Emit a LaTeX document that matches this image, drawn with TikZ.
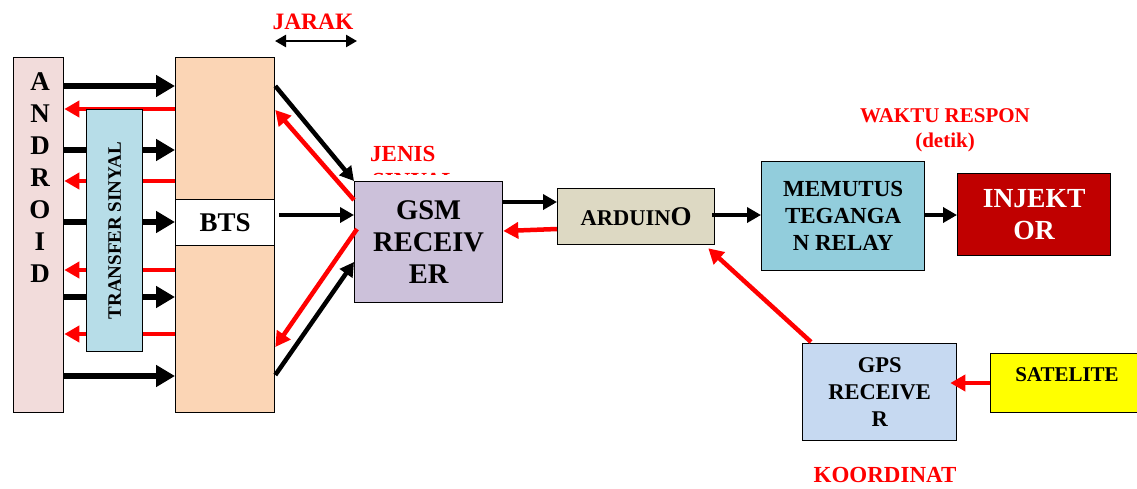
\documentclass[tikz,border=0pt]{standalone}
\usepackage{fontspec}
\setmainfont{Liberation Serif}
\usetikzlibrary{arrows.meta,calc}
\definecolor{andrc}{HTML}{F2DCDB}
\definecolor{btsc}{HTML}{FBD5B5}
\definecolor{transc}{HTML}{B7DDE8}
\definecolor{gsmc}{HTML}{CCC1DA}
\definecolor{ardc}{HTML}{DDD9C3}
\definecolor{memc}{HTML}{92CDDC}
\definecolor{injc}{HTML}{C00000}
\definecolor{gpsc}{HTML}{C6D9F1}
\definecolor{satc}{HTML}{FFFF00}
\definecolor{sigred}{HTML}{FF0000}
\begin{document}
\begin{tikzpicture}[x=1pt,y=-1pt,
  box/.style={draw=black, line width=1.3pt, inner sep=0pt, anchor=north west, align=center, font=\bfseries},
  bigarr/.style={draw=black, line width=6pt, -{Triangle[length=19pt,width=21pt]}},
  blkarr/.style={draw=black, line width=4.5pt, -{Triangle[length=14pt,width=15pt]}},
  redarr/.style={draw=sigred, line width=4.5pt, -{Triangle[length=15pt,width=16pt]}},
  lbl/.style={text=sigred, align=center, inner sep=0pt}
]
\useasboundingbox (0,0) rectangle (1137,488);

% left column boxes
\node[box, fill=andrc, minimum width=50pt, minimum height=355pt] (android) at (13,57) {};
\node[box, fill=btsc, minimum width=99pt, minimum height=355pt] (bts) at (175,57) {};

% arrows android <-> bts
\foreach \y in {86,150,222,297,376}
  \draw[bigarr] (android.east |- 0,\y) -- (bts.west |- 0,\y);
\foreach \y in {109,181,270,334}
  \draw[redarr] (bts.west |- 0,\y) -- (android.east |- 0,\y);

% transfer box
\node[box, fill=transc, minimum width=56pt, minimum height=242pt] (transfer) at (86,109) {};
\node[rotate=90, inner sep=0pt, font=\bfseries\fontsize{19}{21}\selectfont] (transfertext) at (transfer.center) {TRANSFER SINYAL};

\node[align=center, inner sep=0pt, font=\bfseries\fontsize{27}{32}\selectfont] (androidtext) at (40,178) {A\\N\\D\\R\\O\\I\\D};

\node[box, fill=white, minimum width=99pt, minimum height=46pt, font=\bfseries\fontsize{27}{30}\selectfont] (btslabel) at (175,199) {BTS};

% JARAK
\node[lbl, font=\bfseries\fontsize{23.5}{27}\selectfont] (jarak) at (313,22) {JARAK};
\coordinate (jl) at (275,41);
\coordinate (jr) at (357,41);
\draw[line width=2.5pt, {Triangle[length=11pt,width=12pt]}-{Triangle[length=11pt,width=12pt]}] (jl) -- (jr);

% JENIS SINYAL (second line hidden)
\node[lbl, anchor=base west, font=\bfseries\fontsize{23}{27}\selectfont] (jenis) at (370,161) {JENIS};
\begin{scope}
  \clip (360,165) rectangle (480,174.5);
  \node[lbl, anchor=base west, font=\bfseries\fontsize{23}{27}\selectfont] (sinyal) at (372,188) {SINYAL};
\end{scope}

% GSM
\node[box, fill=gsmc, minimum width=148pt, minimum height=121pt, font=\bfseries\fontsize{28.5}{32}\selectfont] (gsm) at (354,181) {GSM\\RECEIV\\ER};

\draw[blkarr] (bts.east |- 0,86) -- (gsm.north west);
\draw[redarr] (gsm.west |- 0,200) -- (bts.east |- 0,110);
\draw[blkarr] ($(bts.east |- 0,215)+(4,0)$) -- (gsm.west |- 0,215);
\draw[redarr] ($(gsm.west |- 0,229)+(3,0)$) -- (bts.east |- 0,347);
\draw[blkarr] (bts.east |- 0,375) -- (gsm.west |- 0,262);

% ARDUINO
\node[box, fill=ardc, minimum width=157pt, minimum height=56pt, font=\bfseries\fontsize{22.5}{24}\selectfont] (arduino) at (557,188) {ARDUIN{\fontsize{27}{30}\selectfont O}};
\draw[blkarr] (gsm.east |- 0,202) -- (arduino.west |- 0,202);
\draw[redarr] (arduino.west |- 0,229) -- (gsm.east |- 0,231);

% MEMUTUS
\node[box, fill=memc, minimum width=163pt, minimum height=109pt, font=\bfseries\fontsize{23}{27}\selectfont] (memutus) at (761,161) {MEMUTUS\\TEGANGA\\N RELAY};
\draw[blkarr] ($(arduino.east |- 0,215)+(-3,0)$) -- (memutus.west |- 0,215);

% INJEKTOR
\node[box, fill=injc, text=white, minimum width=153pt, minimum height=82pt, font=\bfseries\fontsize{27.6}{32}\selectfont] (injektor) at (957,173) {INJEKT\\OR};
\draw[blkarr] (memutus.east |- 0,215) -- (injektor.west |- 0,215);

\node[lbl, font=\bfseries\fontsize{21}{25}\selectfont] (waktu) at (945,130) {WAKTU RESPON\\(detik)};

% GPS and SATELITE
\node[box, fill=gpsc, minimum width=154pt, minimum height=97pt, font=\bfseries\fontsize{22.5}{27}\selectfont] (gps) at (802,343) {GPS\\RECEIVE\\R};
\node[box, fill=satc, minimum width=155pt, minimum height=59pt] (satelite) at (990,353) {};
\node[inner sep=0pt, font=\bfseries\fontsize{21}{24}\selectfont] (satext) at (1067,375) {SATELITE};
\draw[redarr] (satelite.west |- 0,383) -- ($(gps.east |- 0,383)+(-7,0)$);
\draw[redarr] ($(gps.north west)+(9,-1)$) -- ($(arduino.south east)+(-7,3)$);

\node[lbl, font=\bfseries\fontsize{23}{25}\selectfont] (koordinat) at (885,475) {KOORDINAT};
\end{tikzpicture}
\end{document}
